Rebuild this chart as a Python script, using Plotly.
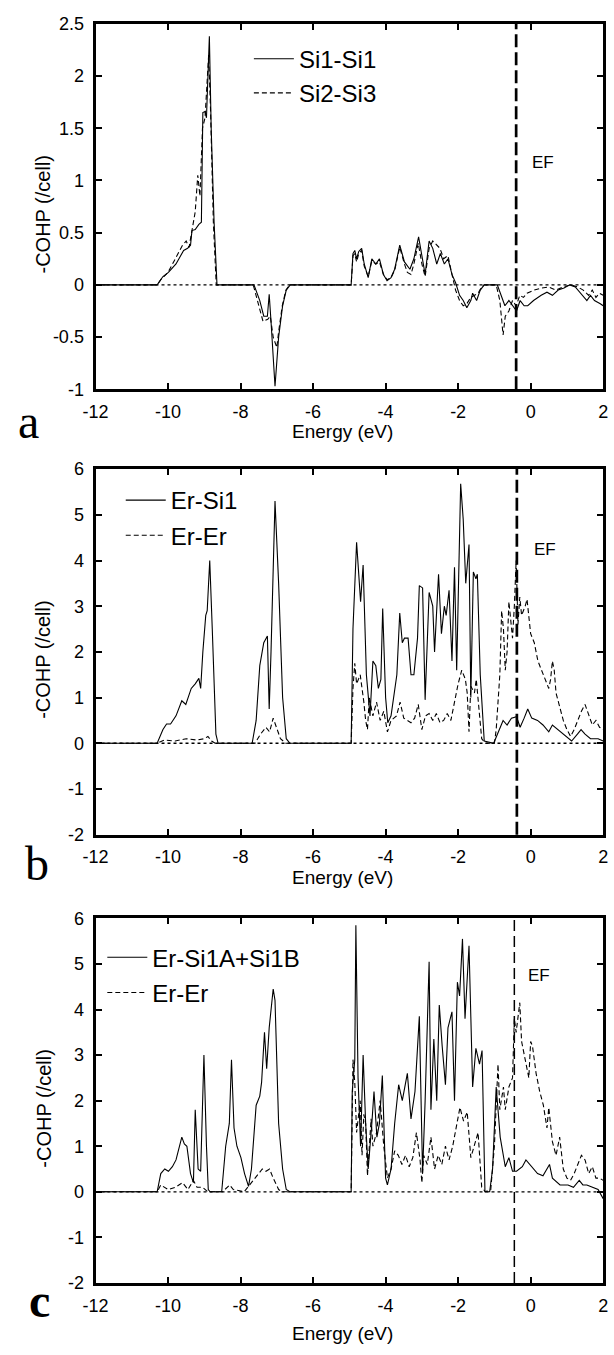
import plotly.graph_objects as go

# ---------------- data (energy eV, -COHP /cell) ----------------
X_TICKS = [-12, -10, -8, -6, -4, -2, 0, 2]
X_TICKTEXT = ["-12", "-10", "-8", "-6", "-4", "-2", "0", "2"]
YA_TICKS = [-1, -0.5, 0, 0.5, 1, 1.5, 2, 2.5]
YA_TICKTEXT = ["-1", "-0.5", "0", "0.5", "1", "1.5", "2", "2.5"]
YB_TICKS = [-2, -1, 0, 1, 2, 3, 4, 5, 6]
YB_TICKTEXT = ["-2", "-1", "0", "1", "2", "3", "4", "5", "6"]
EF = [-0.4, -0.38, -0.45]
PANEL_LABELS = ["a", "b", "c"]

a_si1_si1 = [(-12, 0), (-10.3, 0), (-10.14, 0.08), (-9.99, 0.12), (-9.78, 0.2), (-9.57, 0.33), (-9.46, 0.35),
             (-9.38, 0.38), (-9.34, 0.52), (-9.25, 0.53), (-9.15, 0.58), (-9.08, 0.6), (-9.04, 1.65), (-8.98, 1.66),
             (-8.94, 1.6), (-8.86, 2.38), (-8.81, 1.5), (-8.73, 0.6), (-8.65, 0), (-7.63, 0), (-7.47, -0.15),
             (-7.36, -0.3), (-7.26, -0.3), (-7.21, -0.09), (-7.16, -0.35), (-7.05, -0.97), (-6.95, -0.5),
             (-6.84, -0.2), (-6.74, -0.05), (-6.63, 0), (-4.95, 0), (-4.9, 0.3), (-4.85, 0.33), (-4.8, 0.25),
             (-4.74, 0.32), (-4.66, 0.35), (-4.59, 0.2), (-4.48, 0.07), (-4.38, 0.25), (-4.27, 0.2), (-4.17, 0.25),
             (-4.06, 0.1), (-3.96, 0.04), (-3.85, 0.07), (-3.75, 0.15), (-3.61, 0.38), (-3.48, 0.22), (-3.33, 0.15),
             (-3.22, 0.25), (-3.09, 0.46), (-3.01, 0.3), (-2.91, 0.1), (-2.8, 0.42), (-2.7, 0.35), (-2.59, 0.2),
             (-2.49, 0.3), (-2.38, 0.2), (-2.28, 0.25), (-2.17, 0.1), (-2.07, 0.02), (-1.96, -0.1), (-1.86, -0.15),
             (-1.76, -0.22), (-1.65, -0.15), (-1.6, -0.08), (-1.49, -0.15), (-1.39, -0.05), (-1.28, 0), (-0.92, 0),
             (-0.81, -0.1), (-0.71, -0.2), (-0.6, -0.15), (-0.5, -0.2), (-0.39, -0.25), (-0.29, -0.15),
             (-0.18, -0.2), (-0.08, -0.2), (0.08, -0.15), (0.29, -0.1), (0.45, -0.07), (0.6, -0.1), (0.76, -0.05),
             (0.92, -0.03), (1.08, 0), (1.23, -0.02), (1.44, -0.1), (1.55, -0.15), (1.65, -0.1), (1.76, -0.15),
             (1.92, -0.18), (2.0, -0.2)]

a_si2_si3 = [(-12, 0), (-10.3, 0), (-10.2, 0.05), (-10.0, 0.12), (-9.8, 0.25), (-9.6, 0.38), (-9.5, 0.42),
             (-9.42, 0.36), (-9.35, 0.5), (-9.25, 0.7), (-9.18, 1.05), (-9.12, 0.85), (-9.05, 1.5), (-8.98, 1.6),
             (-8.88, 2.2), (-8.83, 1.7), (-8.75, 0.6), (-8.67, 0), (-7.65, 0), (-7.5, -0.2), (-7.38, -0.35),
             (-7.25, -0.33), (-7.18, -0.3), (-7.1, -0.5), (-7.0, -0.6), (-6.95, -0.45), (-6.85, -0.2),
             (-6.75, -0.05), (-6.65, 0), (-4.95, 0), (-4.9, 0.28), (-4.85, 0.3), (-4.8, 0.22), (-4.74, 0.3),
             (-4.66, 0.33), (-4.59, 0.18), (-4.48, 0.08), (-4.38, 0.23), (-4.27, 0.2), (-4.17, 0.22), (-4.06, 0.1),
             (-3.96, 0.05), (-3.85, 0.07), (-3.75, 0.14), (-3.61, 0.36), (-3.48, 0.2), (-3.4, 0.12), (-3.3, 0.1),
             (-3.22, 0.2), (-3.1, 0.4), (-3.0, 0.2), (-2.91, 0.08), (-2.8, 0.35), (-2.7, 0.42), (-2.6, 0.38),
             (-2.5, 0.35), (-2.4, 0.25), (-2.28, 0.28), (-2.17, 0.1), (-2.07, -0.05), (-1.96, -0.15), (-1.86, -0.2),
             (-1.76, -0.18), (-1.65, -0.12), (-1.55, -0.1), (-1.45, -0.08), (-1.35, -0.02), (-1.28, 0), (-0.95, 0),
             (-0.85, -0.15), (-0.76, -0.48), (-0.7, -0.3), (-0.6, -0.25), (-0.5, -0.15), (-0.4, -0.2), (-0.3, -0.1),
             (-0.2, -0.12), (-0.1, -0.08), (0.1, -0.05), (0.3, -0.03), (0.5, -0.02), (0.7, -0.05), (0.9, -0.02),
             (1.1, 0), (1.3, -0.02), (1.45, -0.05), (1.6, -0.1), (1.7, -0.05), (1.8, -0.12), (1.9, -0.08), (2.0, -0.1)]

b_er_si1 = [(-12, 0), (-10.3, 0), (-10.14, 0.3), (-10.04, 0.42), (-9.93, 0.42), (-9.78, 0.6), (-9.62, 0.93),
            (-9.51, 0.85), (-9.36, 1.2), (-9.25, 1.3), (-9.15, 1.42), (-9.1, 1.2), (-9.04, 2.0), (-8.96, 2.8),
            (-8.92, 2.9), (-8.85, 4.0), (-8.78, 2.5), (-8.68, 0.2), (-8.62, 0), (-7.68, 0), (-7.57, 0.5),
            (-7.47, 1.7), (-7.36, 2.2), (-7.26, 2.35), (-7.21, 0.75), (-7.16, 2.0), (-7.05, 5.3), (-6.95, 3.5),
            (-6.84, 1.0), (-6.74, 0.1), (-6.64, 0), (-4.95, 0), (-4.9, 2.5), (-4.8, 4.4), (-4.69, 3.1), (-4.62, 3.9),
            (-4.53, 1.5), (-4.43, 0.6), (-4.35, 1.8), (-4.27, 1.7), (-4.2, 1.2), (-4.13, 1.4), (-4.08, 2.95),
            (-4.0, 1.0), (-3.94, 0.45), (-3.85, 0.6), (-3.69, 1.5), (-3.61, 2.85), (-3.54, 2.2), (-3.48, 2.3),
            (-3.38, 2.3), (-3.3, 1.5), (-3.22, 1.5), (-3.12, 2.3), (-3.07, 3.45), (-2.98, 3.4), (-2.91, 0.95),
            (-2.8, 3.3), (-2.7, 3.0), (-2.65, 2.0), (-2.54, 3.7), (-2.46, 2.4), (-2.38, 3.0), (-2.33, 2.8),
            (-2.25, 3.35), (-2.17, 1.8), (-2.1, 3.85), (-2.04, 1.6), (-1.93, 5.68), (-1.86, 4.9), (-1.79, 3.5),
            (-1.7, 4.35), (-1.65, 1.0), (-1.58, 3.75), (-1.51, 3.6), (-1.47, 3.7), (-1.39, 1.5), (-1.28, 0.05),
            (-1.02, 0), (-0.92, 0.2), (-0.76, 0.5), (-0.65, 0.4), (-0.53, 0.55), (-0.39, 0.58), (-0.29, 0.35),
            (-0.18, 0.55), (-0.08, 0.75), (0.03, 0.55), (0.19, 0.5), (0.34, 0.4), (0.5, 0.25), (0.6, 0.4),
            (0.76, 0.3), (0.92, 0.2), (1.13, 0.05), (1.29, 0.2), (1.39, 0.3), (1.5, 0.2), (1.65, 0.1), (1.86, 0.1),
            (2.0, 0.05)]

b_er_er = [(-12, 0), (-10.3, 0), (-10.1, 0.07), (-9.8, 0.05), (-9.5, 0.1), (-9.2, 0.07), (-9.0, 0.1), (-8.9, 0.15),
           (-8.8, 0.05), (-8.7, 0), (-7.6, 0), (-7.45, 0.2), (-7.3, 0.35), (-7.2, 0.25), (-7.1, 0.55), (-7.0, 0.3),
           (-6.9, 0.1), (-6.75, 0), (-4.95, 0), (-4.9, 1.2), (-4.85, 1.75), (-4.8, 1.3), (-4.7, 1.5), (-4.6, 0.9),
           (-4.55, 0.5), (-4.5, 0.3), (-4.45, 1.0), (-4.35, 0.6), (-4.25, 0.9), (-4.15, 0.5), (-4.05, 0.7),
           (-3.95, 0.25), (-3.85, 0.5), (-3.7, 0.6), (-3.6, 0.9), (-3.5, 0.55), (-3.4, 0.5), (-3.3, 0.45),
           (-3.2, 0.55), (-3.1, 0.85), (-3.0, 0.3), (-2.9, 0.6), (-2.8, 0.65), (-2.7, 0.5), (-2.6, 0.65),
           (-2.5, 0.45), (-2.4, 0.5), (-2.3, 0.65), (-2.2, 0.5), (-2.1, 0.9), (-2.0, 1.3), (-1.9, 1.6), (-1.8, 1.4),
           (-1.75, 1.1), (-1.7, 0.25), (-1.65, 1.25), (-1.55, 1.1), (-1.5, 1.4), (-1.45, 1.0), (-1.35, 0.1),
           (-1.25, 0), (-1.0, 0), (-0.95, 0.3), (-0.85, 1.5), (-0.8, 2.9), (-0.75, 2.5), (-0.7, 1.6), (-0.65, 2.0),
           (-0.6, 3.1), (-0.5, 2.3), (-0.45, 3.0), (-0.4, 4.0), (-0.35, 2.6), (-0.3, 3.2), (-0.25, 2.8),
           (-0.15, 3.0), (-0.1, 3.15), (0.0, 2.4), (0.1, 2.2), (0.2, 1.8), (0.3, 1.6), (0.4, 1.4), (0.5, 1.2),
           (0.55, 1.4), (0.6, 1.8), (0.65, 1.6), (0.7, 1.1), (0.8, 0.8), (0.9, 0.5), (1.0, 0.3), (1.1, 0.15),
           (1.2, 0.3), (1.3, 0.5), (1.4, 0.7), (1.5, 0.85), (1.6, 0.6), (1.7, 0.4), (1.8, 0.5), (1.9, 0.35),
           (2.0, 0.3)]

c_er_si1ab = [(-12, 0), (-10.3, 0), (-10.2, 0.4), (-10.09, 0.5), (-9.99, 0.45), (-9.88, 0.55), (-9.78, 0.7),
              (-9.62, 1.2), (-9.55, 1.05), (-9.48, 1.0), (-9.38, 0.4), (-9.3, 0.2), (-9.25, 1.8), (-9.17, 0.5),
              (-9.1, 0.45), (-9.01, 3.0), (-8.94, 1.0), (-8.89, 0.05), (-8.84, 0), (-8.52, 0), (-8.41, 1.0),
              (-8.31, 1.5), (-8.25, 2.9), (-8.18, 1.4), (-8.1, 1.0), (-7.99, 0.75), (-7.89, 0.4), (-7.78, 0.12),
              (-7.7, 0.5), (-7.57, 1.9), (-7.47, 2.1), (-7.42, 2.4), (-7.34, 3.5), (-7.28, 2.7), (-7.21, 3.6),
              (-7.1, 4.45), (-7.05, 4.2), (-6.95, 1.5), (-6.84, 0.5), (-6.74, 0.05), (-6.64, 0), (-4.95, 0),
              (-4.92, 2.2), (-4.85, 2.9), (-4.82, 5.85), (-4.76, 2.5), (-4.69, 1.0), (-4.62, 3.0), (-4.55, 1.5),
              (-4.48, 0.5), (-4.38, 1.5), (-4.32, 2.2), (-4.24, 1.2), (-4.17, 1.5), (-4.09, 2.55), (-4.0, 0.3),
              (-3.95, 0.15), (-3.85, 0.5), (-3.75, 1.5), (-3.64, 2.35), (-3.54, 2.0), (-3.4, 2.6), (-3.3, 1.6),
              (-3.19, 2.2), (-3.07, 3.85), (-2.98, 0.4), (-2.91, 2.0), (-2.8, 5.05), (-2.75, 1.8), (-2.67, 3.35),
              (-2.59, 2.0), (-2.52, 4.1), (-2.44, 3.2), (-2.35, 2.35), (-2.28, 3.6), (-2.17, 3.95), (-2.1, 2.0),
              (-2.02, 4.6), (-1.96, 4.3), (-1.88, 5.55), (-1.81, 3.8), (-1.7, 5.4), (-1.6, 2.3), (-1.51, 3.15),
              (-1.41, 2.8), (-1.34, 3.1), (-1.26, 0), (-1.13, 0), (-1.05, 0.5), (-0.95, 2.3), (-0.84, 1.2),
              (-0.7, 0.55), (-0.6, 0.75), (-0.5, 0.45), (-0.39, 0.45), (-0.23, 0.55), (-0.13, 0.7), (0.03, 0.55),
              (0.19, 0.4), (0.34, 0.35), (0.52, 0.6), (0.6, 0.3), (0.81, 0.15), (1.03, 0.15), (1.18, 0.1),
              (1.34, 0.25), (1.44, 0.15), (1.55, 0.15), (1.7, 0.1), (1.86, 0.05), (2.0, -0.15)]

c_er_er = [(-12, 0), (-10.3, 0), (-10.2, 0.15), (-10.0, 0.05), (-9.8, 0.1), (-9.6, 0.2), (-9.45, 0.05),
           (-9.3, 0.25), (-9.2, 0.1), (-9.05, 0.1), (-8.9, 0), (-8.5, 0), (-8.3, 0.15), (-8.2, 0.05), (-7.9, 0),
           (-7.8, 0.1), (-7.6, 0.3), (-7.4, 0.5), (-7.3, 0.45), (-7.2, 0.5), (-7.1, 0.3), (-6.95, 0.05),
           (-6.85, 0), (-4.95, 0), (-4.9, 2.9), (-4.85, 2.4), (-4.8, 1.3), (-4.7, 2.0), (-4.65, 0.8), (-4.6, 1.7),
           (-4.55, 1.5), (-4.5, 0.35), (-4.4, 1.6), (-4.35, 1.0), (-4.25, 1.3), (-4.15, 2.0), (-4.05, 1.0),
           (-3.95, 0.3), (-3.85, 0.5), (-3.75, 0.9), (-3.65, 0.8), (-3.55, 0.6), (-3.45, 0.8), (-3.35, 0.55),
           (-3.25, 0.75), (-3.15, 1.3), (-3.05, 0.7), (-3.0, 0.2), (-2.95, 0.8), (-2.85, 0.6), (-2.75, 1.2),
           (-2.65, 0.5), (-2.55, 0.8), (-2.45, 0.6), (-2.35, 1.0), (-2.25, 0.7), (-2.15, 1.0), (-2.05, 1.4),
           (-1.95, 1.85), (-1.85, 1.55), (-1.75, 1.75), (-1.65, 0.75), (-1.55, 1.0), (-1.45, 1.3), (-1.35, 0.1),
           (-1.25, 0), (-1.1, 0.05), (-1.0, 1.0), (-0.9, 2.8), (-0.85, 1.8), (-0.75, 2.3), (-0.7, 1.8),
           (-0.6, 2.3), (-0.5, 2.5), (-0.45, 3.8), (-0.4, 3.5), (-0.3, 4.15), (-0.25, 3.3), (-0.15, 2.9),
           (-0.05, 2.5), (0.0, 3.3), (0.05, 3.2), (0.15, 2.6), (0.25, 2.2), (0.35, 1.9), (0.45, 1.4), (0.5, 1.85),
           (0.6, 1.1), (0.7, 0.8), (0.8, 1.2), (0.9, 0.5), (1.0, 0.3), (1.1, 0.25), (1.2, 0.4), (1.3, 0.6),
           (1.4, 0.8), (1.5, 0.7), (1.6, 0.4), (1.7, 0.55), (1.8, 0.3), (1.9, 0.3), (2.0, 0.25)]

PANELS = [
    dict(series=[("Si1-Si1", a_si1_si1, "solid"), ("Si2-Si3", a_si2_si3, "dash")],
         yrange=[-1, 2.5], ytv=YA_TICKS, ytt=YA_TICKTEXT),
    dict(series=[("Er-Si1", b_er_si1, "solid"), ("Er-Er", b_er_er, "dash")],
         yrange=[-2, 6], ytv=YB_TICKS, ytt=YB_TICKTEXT),
    dict(series=[("Er-Si1A+Si1B", c_er_si1ab, "solid"), ("Er-Er", c_er_er, "dash")],
         yrange=[-2, 6], ytv=YB_TICKS, ytt=YB_TICKTEXT),
]

# ---------------- layout geometry (pixels) ----------------
W, H = 614, 1355
X0, X1 = 85, 608
PANEL_PIX = [(14, 385), (466, 837), (922, 1292)]
LEGEND_PIX = [(243, 27, 0), (111, 475, 1), (92, 939, 1)]   # left, top, gap
EF_TEXT_PIX = [(533, 155), (535, 548), (529, 980)]
EF_DASH = [("13px,5px", 2.7), ("13px,5px", 2.7), ("11px,5px", 1.5)]
XTITLE_PIX = [428, 880, 1343]
LETTER_PIX = [(16, 418), (25, 866), (27, 1310)]
FONT = "Arial, Liberation Sans, sans-serif"

def py(p):
    return 1 - p / H

def px(p):
    return p / W

fig = go.Figure()
layout = dict(width=W, height=H, margin=dict(l=0, r=0, t=0, b=0),
              plot_bgcolor="white", paper_bgcolor="white",
              font=dict(family=FONT, size=18, color="black"))
annotations = []
shapes = []

for i, panel in enumerate(PANELS):
    n = "" if i == 0 else str(i + 1)
    xa, ya = "x" + n, "y" + n
    leg = "legend" + n
    top, bot = PANEL_PIX[i]
    for k, (name, pts, dash) in enumerate(panel["series"]):
        fig.add_trace(go.Scatter(
            x=[p[0] for p in pts], y=[p[1] for p in pts], mode="lines", name=name,
            line=dict(color="black", width=1.1, dash="solid" if dash == "solid" else "5px,3px"),
            xaxis=xa, yaxis=ya, legend=leg, legendgroup=f"{i}-{k}", showlegend=True))
    axis_common = dict(showline=True, linewidth=3, linecolor="black", mirror="ticks",
                       ticks="inside", ticklen=6, tickwidth=2, tickcolor="black",
                       showgrid=False, zeroline=False, tickfont=dict(size=18, family=FONT))
    layout["xaxis" + n] = dict(axis_common, domain=[px(X0), px(X1)], range=[-12, 2],
                               tickvals=X_TICKS, ticktext=X_TICKTEXT, anchor=ya, ticklabelstandoff=4)
    layout["yaxis" + n] = dict(axis_common, domain=[py(bot), py(top)], range=panel["yrange"],
                               tickvals=panel["ytv"], ticktext=panel["ytt"], anchor=xa, ticklabelstandoff=5)
    lx, ly, gap = LEGEND_PIX[i]
    layout[leg] = dict(x=px(lx), y=py(ly), xanchor="left", yanchor="top", bgcolor="rgba(0,0,0,0)",
                       font=dict(size=24, family=FONT), itemwidth=40, tracegroupgap=gap,
                       borderwidth=0)
    # zero line
    shapes.append(dict(type="line", xref=xa, yref=ya, x0=-12, x1=2, y0=0, y1=0,
                       line=dict(color="black", width=1.3, dash="dot"), layer="below"))
    # Fermi level
    d, w = EF_DASH[i]
    shapes.append(dict(type="line", xref=xa, yref=ya + " domain", x0=EF[i], x1=EF[i], y0=0, y1=1,
                       line=dict(color="black", width=w, dash=d)))
    ex, ey = EF_TEXT_PIX[i]
    annotations.append(dict(text="EF", xref="paper", yref="paper", x=px(ex), y=py(ey), showarrow=False,
                            xanchor="left", yanchor="middle", font=dict(size=17, family=FONT)))
    # axis titles
    annotations.append(dict(text="Energy (eV)", xref="paper", yref="paper", x=px(339),
                            y=py(XTITLE_PIX[i]), showarrow=False, xanchor="center", yanchor="middle",
                            font=dict(size=19, family=FONT)))
    annotations.append(dict(text="-COHP (/cell)", xref="paper", yref="paper", x=px(31),
                            y=py((top + bot) / 2 + 8), showarrow=False, textangle=-90,
                            xanchor="center", yanchor="middle", font=dict(size=20, family=FONT)))
    # panel letter
    lx2, ly2 = LETTER_PIX[i]
    annotations.append(dict(text=("<b>%s</b>" % PANEL_LABELS[i]) if i == 2 else PANEL_LABELS[i],
                            xref="paper", yref="paper", x=px(lx2), y=py(ly2), showarrow=False,
                            xanchor="center", yanchor="middle",
                            font=dict(size=48, family="Liberation Serif, Times New Roman, serif")))

layout["annotations"] = annotations
layout["shapes"] = shapes
fig.update_layout(**layout)
fig.write_html("out.html", config={"displayModeBar": False},
               post_script="document.body.style.margin='0';document.body.style.overflow='hidden';")
